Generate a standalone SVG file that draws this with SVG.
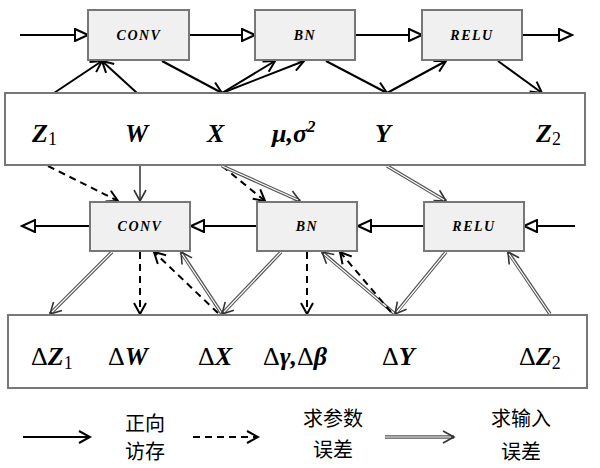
<svg xmlns="http://www.w3.org/2000/svg" width="600" height="468" viewBox="0 0 600 468">
<style>
.box{fill:#f0f0f0;stroke:#777;stroke-width:2}
.vbox{fill:#fff;stroke:#777;stroke-width:2}
.nl{font-family:"Liberation Serif",serif;font-weight:bold;font-style:italic;font-size:14px;letter-spacing:1.5px;text-anchor:middle}
.v{font-family:"Liberation Serif",serif;font-weight:bold;font-style:italic;font-size:26px}
.sub{font-style:normal;font-weight:normal;font-size:18px}
.d{font-style:normal;font-weight:normal}
.flow{stroke:#000;stroke-width:2;fill:none;marker-end:url(#tri)}
.s{stroke:#000;stroke-width:2;fill:none;marker-end:url(#v)}
.sg{stroke:#555;stroke-width:1.8;fill:none;marker-end:url(#vg)}
.ds{stroke:#000;stroke-width:2;stroke-dasharray:7,5;fill:none;marker-end:url(#v)}
.dbo{stroke:#555;stroke-width:3.5;fill:none;marker-end:url(#vg)}
.dbi{stroke:#fff;stroke-width:1.2;fill:none}
.cn{font-family:"Liberation Sans","Noto Sans CJK SC",sans-serif;font-size:20px;text-anchor:middle}
</style>
<defs>
<marker id="tri" markerUnits="userSpaceOnUse" markerWidth="16" markerHeight="14" refX="14" refY="7" orient="auto"><path d="M1,1 L14,7 L1,13 z" fill="#fff" stroke="#000" stroke-width="2"/></marker>
<marker id="v" markerUnits="userSpaceOnUse" markerWidth="14" markerHeight="14" refX="12" refY="7" orient="auto"><path d="M1,1 L12,7 L1,13" fill="none" stroke="#000" stroke-width="2"/></marker>
<marker id="vg" markerUnits="userSpaceOnUse" markerWidth="14" markerHeight="14" refX="12" refY="7" orient="auto"><path d="M1,1 L12,7 L1,13" fill="none" stroke="#333" stroke-width="1.6"/></marker>
</defs>

<g id="connectors">
<path class="flow" d="M20,35 L88,35"/>
<path class="flow" d="M189,35 L255,35"/>
<path class="flow" d="M355,35 L422,35"/>
<path class="flow" d="M522,35 L572,35"/>
<path class="flow" d="M575,226 L524,226"/>
<path class="flow" d="M424,226 L358,226"/>
<path class="flow" d="M257,226 L191,226"/>
<path class="flow" d="M90,226 L22,226"/>

<path class="s" d="M54,93 L102,61"/>
<path class="s" d="M137,93 L102,61"/>
<path class="s" d="M162,61 L222,93"/>
<path class="s" d="M222,93 L275,61"/>
<path class="s" d="M222,93 L304,61"/>
<path class="s" d="M326,61 L387,93"/>
<path class="s" d="M387,93 L446,61"/>
<path class="s" d="M498,61 L542,93"/>

<path class="ds" d="M48,166 L118,201"/>
<path class="sg" d="M140,166 L140,201"/>
<path class="ds" d="M222,166 L265,201"/>
<path class="dbo" d="M222,166 L300,201"/><path class="dbi" d="M222,166 L298,200"/>
<path class="dbo" d="M387,166 L446,201"/><path class="dbi" d="M387,166 L444,200"/>

<path class="dbo" d="M112,252 L50,314"/><path class="dbi" d="M112,252 L52,312"/>
<path class="ds" d="M140,252 L140,314"/>
<path class="ds" d="M218,313 L154,252"/>
<path class="dbo" d="M222,314 L181,252"/><path class="dbi" d="M222,314 L182,254"/>
<path class="dbo" d="M281,252 L222,314"/><path class="dbi" d="M281,252 L224,312"/>
<path class="ds" d="M307,252 L307,314"/>
<path class="dbo" d="M395,314 L322,252"/><path class="dbi" d="M395,314 L324,254"/>
<path class="ds" d="M391,312 L340,252"/>
<path class="dbo" d="M446,252 L395,314"/><path class="dbi" d="M446,252 L397,312"/>
<path class="dbo" d="M550,314 L508,252"/><path class="dbi" d="M550,314 L509,254"/>
</g>

<g id="conv"><rect class="box" x="88" y="10" width="101" height="50"/><text class="nl" x="139" y="40">CONV</text></g>
<g id="bn"><rect class="box" x="255" y="10" width="100" height="50"/><text class="nl" x="305" y="40">BN</text></g>
<g id="relu"><rect class="box" x="422" y="10" width="100" height="50"/><text class="nl" x="472" y="40">RELU</text></g>

<g id="fwvars"><rect class="vbox" x="5" y="93" width="580" height="72"/>
<text class="v" x="32" y="142">Z<tspan class="sub" dy="3">1</tspan></text>
<text class="v" x="125" y="142">W</text>
<text class="v" x="207" y="142">X</text>
<text class="v" x="272" y="142">μ,σ<tspan font-size="17" dy="-10">2</tspan></text>
<text class="v" x="375" y="142">Y</text>
<text class="v" x="536" y="142">Z<tspan class="sub" dy="3">2</tspan></text>
</g>

<g id="conv2"><rect class="box" x="90" y="202" width="100" height="49"/><text class="nl" x="140" y="231">CONV</text></g>
<g id="bn2"><rect class="box" x="257" y="202" width="100" height="49"/><text class="nl" x="307" y="231">BN</text></g>
<g id="relu2"><rect class="box" x="424" y="202" width="100" height="49"/><text class="nl" x="474" y="231">RELU</text></g>

<g id="bwvars"><rect class="vbox" x="8" y="315" width="579" height="73"/>
<text class="v" x="31" y="365"><tspan class="d">Δ</tspan>Z<tspan class="sub" dy="4">1</tspan></text>
<text class="v" x="108" y="365"><tspan class="d">Δ</tspan>W</text>
<text class="v" x="198" y="365"><tspan class="d">Δ</tspan>X</text>
<text class="v" x="263" y="365"><tspan class="d">Δ</tspan>γ,<tspan class="d">Δ</tspan>β</text>
<text class="v" x="382" y="365"><tspan class="d">Δ</tspan>Y</text>
<text class="v" x="519" y="365"><tspan class="d">Δ</tspan>Z<tspan class="sub" dy="4">2</tspan></text>
</g>

<g id="legend">
<path class="s" d="M23,437 L90,437"/>
<text class="cn" x="145" y="431">正向</text><text class="cn" x="145" y="459">访存</text>
<path class="ds" d="M193,437 L258,437"/>
<text class="cn" x="333" y="426">求参数</text><text class="cn" x="333" y="457">误差</text>
<path class="dbo" d="M385,437 L454,437"/><path class="dbi" d="M385,437 L451,437"/>
<text class="cn" x="521" y="426">求输入</text><text class="cn" x="521" y="459">误差</text>
</g>
</svg>
